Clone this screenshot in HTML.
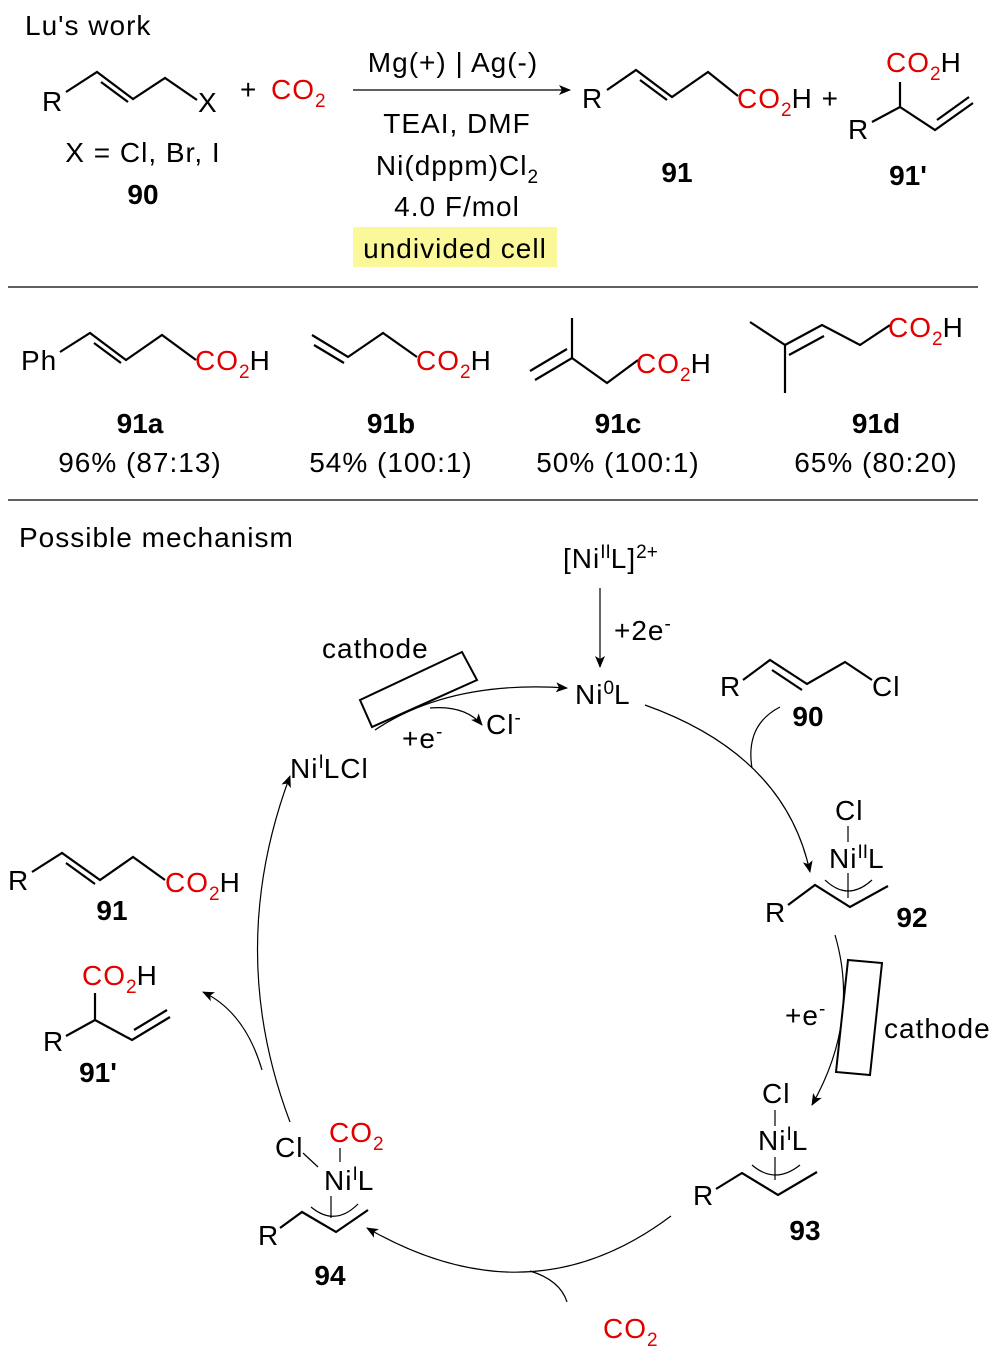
<!DOCTYPE html>
<html><head><meta charset="utf-8"><style>
html,body{margin:0;padding:0;background:#fff}
svg{display:block}
text{font-family:"Liberation Sans",Arial,sans-serif;font-size:28px;letter-spacing:1px;fill:#000}
.r{fill:#e00000}
.k{fill:#000}
.b{font-weight:bold;letter-spacing:0}
.s{font-size:19px;letter-spacing:0}
line,path,polyline{stroke:#000;fill:none}
.t{stroke-width:2.2}
.th{stroke-width:1.2}
</style></head><body>
<svg width="1004" height="1361" viewBox="0 0 1004 1361" xmlns="http://www.w3.org/2000/svg">
<defs><marker id="a" markerWidth="12" markerHeight="10" refX="11" refY="5" orient="auto" markerUnits="userSpaceOnUse"><path d="M0,0 L12,5 L0,10 L3,5 Z" style="fill:#000;stroke:none"/></marker></defs>

<text x="25" y="35">Lu's work</text>
<!-- 90 -->
<text x="42" y="111">R</text>
<polyline class="t" points="66,92 97,72 133,99 165,78 197,100"/>
<line class="t" x1="101" y1="82" x2="128" y2="102"/>
<text x="198" y="112">X</text>
<text x="143" y="162" text-anchor="middle">X = Cl, Br, I</text>
<text x="143" y="204" text-anchor="middle" class="b">90</text>
<text x="240" y="99">+</text>
<text x="271" y="99" class="r">CO<tspan class="s r" dy="8">2</tspan></text>
<line class="th" x1="353" y1="90" x2="570" y2="90" marker-end="url(#a)"/>
<text x="453" y="72" text-anchor="middle">Mg(+) | Ag(-)</text>
<text x="457" y="133" text-anchor="middle">TEAI, DMF</text>
<text x="457" y="175" text-anchor="middle">Ni(dppm)Cl<tspan class="s" dy="8">2</tspan></text>
<text x="457" y="216" text-anchor="middle">4.0 F/mol</text>
<rect x="353" y="227" width="204" height="40" fill="#fbf89a"/>
<text x="455" y="258" text-anchor="middle">undivided cell</text>
<!-- 91 -->
<text x="582" y="108">R</text>
<polyline class="t" points="607,90 636,70 672,97 708,72 738,96"/>
<line class="t" x1="640" y1="80" x2="667" y2="100"/>
<text x="737" y="108" class="r">CO<tspan class="s r" dy="8">2</tspan><tspan class="k" dy="-8">H +</tspan></text>
<text x="886" y="72" class="r">CO<tspan class="s r" dy="8">2</tspan><tspan class="k" dy="-8">H</tspan></text>
<line class="t" x1="900" y1="82" x2="900" y2="108"/>
<text x="848" y="139">R</text>
<polyline class="t" points="872,122 900,107 935,130 973,103"/>
<line class="t" x1="937" y1="120" x2="969" y2="97"/>
<text x="677" y="182" text-anchor="middle" class="b">91</text>
<text x="908" y="185" text-anchor="middle" class="b">91'</text>
<line x1="8" y1="287" x2="978" y2="287" stroke-width="1.2"/>

<!-- 91a -->
<text x="21" y="370">Ph</text>
<polyline class="t" points="60,352 90,333 126,360 162,335 196,360"/>
<line class="t" x1="94" y1="343" x2="121" y2="363"/>
<text x="195" y="370" class="r">CO<tspan class="s r" dy="8">2</tspan><tspan class="k" dy="-8">H</tspan></text>
<text x="140" y="433" text-anchor="middle" class="b">91a</text>
<text x="140" y="472" text-anchor="middle">96% (87:13)</text>
<!-- 91b -->
<polyline class="t" points="312,335 348,357 383,333 417,357"/>
<line class="t" x1="314" y1="345" x2="344" y2="363"/>
<text x="416" y="370" class="r">CO<tspan class="s r" dy="8">2</tspan><tspan class="k" dy="-8">H</tspan></text>
<text x="391" y="433" text-anchor="middle" class="b">91b</text>
<text x="391" y="472" text-anchor="middle">54% (100:1)</text>
<!-- 91c -->
<line class="t" x1="572" y1="318" x2="572" y2="358"/>
<polyline class="t" points="535,380 572,358 607,383 638,360"/>
<line class="t" x1="530" y1="371" x2="567" y2="349"/>
<text x="636" y="373" class="r">CO<tspan class="s r" dy="8">2</tspan><tspan class="k" dy="-8">H</tspan></text>
<text x="618" y="433" text-anchor="middle" class="b">91c</text>
<text x="618" y="472" text-anchor="middle">50% (100:1)</text>
<!-- 91d -->
<polyline class="t" points="750,322 785,345 785,393"/>
<polyline class="t" points="785,345 822,325 860,345 890,325"/>
<line class="t" x1="789" y1="355" x2="824" y2="336"/>
<text x="888" y="337" class="r">CO<tspan class="s r" dy="8">2</tspan><tspan class="k" dy="-8">H</tspan></text>
<text x="876" y="433" text-anchor="middle" class="b">91d</text>
<text x="876" y="472" text-anchor="middle">65% (80:20)</text>
<line x1="8" y1="500" x2="978" y2="500" stroke-width="1.2"/>

<text x="19" y="547">Possible mechanism</text>
<text x="563" y="568">[Ni<tspan class="s" dy="-10">II</tspan><tspan dy="10">L]</tspan><tspan class="s" dy="-10">2+</tspan></text>
<line class="th" x1="600" y1="588" x2="600" y2="667" marker-end="url(#a)"/>
<text x="614" y="640">+2e<tspan class="s" dy="-10">-</tspan></text>
<text x="575" y="704">Ni<tspan class="s" dy="-10">0</tspan><tspan dy="10">L</tspan></text>
<text x="322" y="658">cathode</text>
<polygon points="360,700 462,652 477,680 372,727" fill="none" stroke="#000" stroke-width="2"/>
<path class="th" d="M375,730 Q450,680 567,688" marker-end="url(#a)"/>
<path class="th" d="M430,708 Q465,705 482,725" marker-end="url(#a)"/>
<text x="402" y="748">+e<tspan class="s" dy="-10">-</tspan></text>
<text x="486" y="734">Cl<tspan class="s" dy="-10">-</tspan></text>
<text x="290" y="778">Ni<tspan class="s" dy="-10">I</tspan><tspan dy="10">LCl</tspan></text>

<!-- 90 in mechanism -->
<text x="720" y="696">R</text>
<polyline class="t" points="743,680 770,660 807,684 845,662 872,680"/>
<line class="t" x1="772" y1="670" x2="802" y2="690"/>
<text x="872" y="696">Cl</text>
<text x="808" y="726" text-anchor="middle" class="b">90</text>
<path class="th" d="M645,705 Q785,755 810,872" marker-end="url(#a)"/>
<path class="th" d="M780,707 Q745,725 752,768"/>

<!-- 92 -->
<text x="835" y="820">Cl</text>
<line class="th" x1="848" y1="826" x2="848" y2="842"/>
<text x="829" y="868">Ni<tspan class="s" dy="-10">II</tspan><tspan dy="10">L</tspan></text>
<line class="th" x1="848" y1="873" x2="848" y2="898"/>
<path class="th" d="M825,880 Q848,902 872,880"/>
<text x="765" y="922">R</text>
<polyline class="t" points="788,905 815,885 850,907 888,886"/>
<text x="912" y="927" text-anchor="middle" class="b">92</text>

<path class="th" d="M835,935 Q860,1020 812,1105" marker-end="url(#a)"/>
<text x="785" y="1025">+e<tspan class="s" dy="-10">-</tspan></text>
<polygon points="848,960 882,963 870,1075 836,1072" fill="none" stroke="#000" stroke-width="2"/>
<text x="884" y="1038">cathode</text>

<!-- 93 -->
<text x="762" y="1103">Cl</text>
<line class="th" x1="775" y1="1110" x2="775" y2="1126"/>
<text x="758" y="1150">Ni<tspan class="s" dy="-10">I</tspan><tspan dy="10">L</tspan></text>
<line class="th" x1="775" y1="1157" x2="775" y2="1180"/>
<path class="th" d="M752,1165 Q775,1185 800,1165"/>
<text x="693" y="1205">R</text>
<polyline class="t" points="716,1189 742,1173 778,1195 817,1172"/>
<text x="805" y="1240" text-anchor="middle" class="b">93</text>

<path class="th" d="M671,1216 Q530,1322 367,1228" marker-end="url(#a)"/>
<path class="th" d="M530,1271 Q560,1280 567,1302"/>
<text x="603" y="1338" class="r">CO<tspan class="s r" dy="8">2</tspan></text>

<!-- 94 -->
<text x="275" y="1157">Cl</text>
<text x="329" y="1142" class="r">CO<tspan class="s r" dy="8">2</tspan></text>
<line class="th" x1="340" y1="1148" x2="340" y2="1162"/>
<line class="th" x1="303" y1="1153" x2="318" y2="1167"/>
<text x="324" y="1190">Ni<tspan class="s" dy="-10">I</tspan><tspan dy="10">L</tspan></text>
<line class="th" x1="331" y1="1196" x2="331" y2="1218"/>
<path class="th" d="M311,1207 Q335,1227 358,1204"/>
<text x="258" y="1245">R</text>
<polyline class="t" points="280,1228 302,1212 336,1232 368,1210"/>
<text x="330" y="1285" text-anchor="middle" class="b">94</text>

<path class="th" d="M290,1122 Q225,950 290,776" marker-end="url(#a)"/>
<path class="th" d="M262,1070 Q245,1012 203,992" marker-end="url(#a)"/>

<!-- 91 left -->
<text x="8" y="890">R</text>
<polyline class="t" points="32,872 62,853 100,880 133,857 165,880"/>
<line class="t" x1="66" y1="863" x2="95" y2="884"/>
<text x="165" y="892" class="r">CO<tspan class="s r" dy="8">2</tspan><tspan class="k" dy="-8">H</tspan></text>
<text x="112" y="920" text-anchor="middle" class="b">91</text>
<!-- 91' left -->
<text x="82" y="985" class="r">CO<tspan class="s r" dy="8">2</tspan><tspan class="k" dy="-8">H</tspan></text>
<line class="t" x1="95" y1="993" x2="95" y2="1020"/>
<text x="43" y="1051">R</text>
<polyline class="t" points="66,1036 95,1020 132,1040 170,1017"/>
<line class="t" x1="134" y1="1030" x2="167" y2="1010"/>
<text x="98" y="1082" text-anchor="middle" class="b">91'</text>
</svg>
</body></html>
